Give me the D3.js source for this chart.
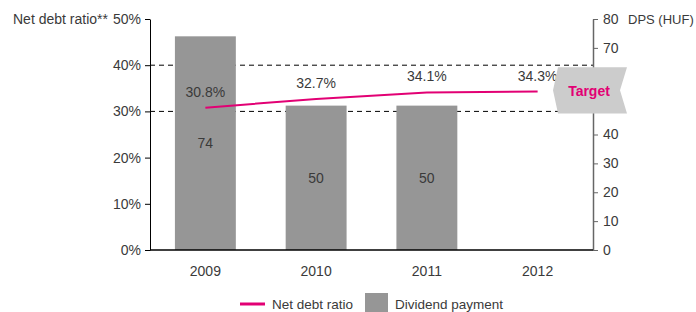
<!DOCTYPE html>
<html>
<head>
<meta charset="utf-8">
<script src="https://cdn.jsdelivr.net/npm/d3@7"></script>
<style>
  body { margin: 0; background: #fff; }
  text { font-family: "Liberation Sans", Arial, sans-serif; }
</style>
</head>
<body>
<div id="chart"></div>
<script>
// data
const years = ["2009", "2010", "2011", "2012"];
const dividend = [74, 50, 50, null];
const netDebt = [30.8, 32.7, 34.1, 34.3];
const leftTicks = [0, 10, 20, 30, 40, 50];
const rightTicks = [0, 10, 20, 30, 40, 50, 60, 70, 80];

const W = 696, H = 312;
const margin = {top: 19, left: 150, right: 103, bottom: 62};
const pink = "#e20074", barGrey = "#969696", textCol = "#3a3a3a";

const svg = d3.select("#chart").append("svg")
  .attr("width", W).attr("height", H);

const x = d3.scaleBand().domain(years)
  .range([margin.left, W - margin.right]).paddingInner(0.45).paddingOuter(0.225);
const yL = d3.scaleLinear().domain([0, 50]).range([H - margin.bottom, margin.top]);
const yR = d3.scaleLinear().domain([0, 80]).range([H - margin.bottom, margin.top]);
const x0 = margin.left, x1 = W - margin.right;

// dashed target band lines
[40, 30].forEach(v => {
  svg.append("line")
    .attr("x1", x0).attr("x2", x1)
    .attr("y1", yL(v)).attr("y2", yL(v))
    .attr("stroke", "#000").attr("stroke-dasharray", "5,4");
});

// bars
const barData = years.map((y, i) => ({year: y, v: dividend[i]})).filter(d => d.v != null);
svg.append("g").selectAll("rect")
  .data(barData)
  .join("rect")
    .attr("x", d => x(d.year))
    .attr("y", d => yR(d.v))
    .attr("width", x.bandwidth())
    .attr("height", d => yR(0) - yR(d.v))
    .attr("fill", barGrey);

svg.append("g").selectAll("text")
  .data(barData)
  .join("text")
    .attr("x", d => x(d.year) + x.bandwidth() / 2)
    .attr("y", d => (yR(d.v) + yR(0)) / 2)
    .attr("dy", "0.35em")
    .attr("text-anchor", "middle")
    .attr("fill", textCol).style("font-size", "14px")
    .text(d => d.v);

// left axis
const axL = svg.append("g")
  .attr("transform", `translate(${x0},0)`)
  .call(d3.axisLeft(yL).tickValues(leftTicks).tickFormat(d => d + "%").tickSize(5).tickSizeOuter(0));
axL.select(".domain").attr("stroke", "#000");
axL.selectAll("text").attr("fill", textCol).style("font-size", "14px").attr("x", -9);

// right axis
const axR = svg.append("g")
  .attr("transform", `translate(${x1},0)`)
  .call(d3.axisRight(yR).tickValues(rightTicks).tickSize(5).tickSizeOuter(0));
axR.select(".domain").attr("stroke", "#666").attr("stroke-width", 1.5);
axR.selectAll(".tick line").attr("stroke", "#666");
axR.selectAll("text").attr("fill", textCol).style("font-size", "14px").attr("x", 10);

// x baseline and labels
svg.append("line")
  .attr("x1", x0).attr("x2", x1)
  .attr("y1", yL(0)).attr("y2", yL(0))
  .attr("stroke", "#000").attr("stroke-width", 1.5);
svg.append("g").selectAll("text")
  .data(years).join("text")
    .attr("x", d => x(d) + x.bandwidth() / 2)
    .attr("y", yL(0) + 26)
    .attr("text-anchor", "middle")
    .attr("fill", textCol).style("font-size", "14px")
    .text(d => d);

// net debt line
const line = d3.line()
  .x((d, i) => x(years[i]) + x.bandwidth() / 2)
  .y(d => yL(d));
svg.append("path")
  .datum(netDebt)
  .attr("d", line)
  .attr("fill", "none").attr("stroke", pink).attr("stroke-width", 2);

svg.append("g").selectAll("text")
  .data(netDebt).join("text")
    .attr("x", (d, i) => x(years[i]) + x.bandwidth() / 2)
    .attr("y", d => yL(d) - 11)
    .attr("text-anchor", "middle")
    .attr("fill", textCol).style("font-size", "14px")
    .text(d => d.toFixed(1) + "%");

// target badge
const bTop = yL(40) + 2, bBot = yL(30) + 2, bMid = (bTop + bBot) / 2;
const bx0 = x1 - 40, bx1 = x1 + 34;
svg.append("path")
  .attr("d", `M${bx0},${bMid} L${bx0 + 5},${bTop} L${bx1},${bTop} L${bx1 - 7},${bMid} L${bx1},${bBot} L${bx0 + 5},${bBot} Z`)
  .attr("fill", "#cccccc");
svg.append("text")
  .attr("x", (bx0 + bx1) / 2 - 1).attr("y", bMid + 6)
  .attr("text-anchor", "middle")
  .attr("fill", pink).style("font-size", "14px").style("font-weight", "bold")
  .text("Target");

// axis titles
svg.append("text")
  .attr("x", 13).attr("y", margin.top + 5)
  .attr("fill", textCol).style("font-size", "14px")
  .text("Net debt ratio**");
svg.append("text")
  .attr("x", x1 + 35).attr("y", margin.top + 5)
  .attr("fill", textCol).style("font-size", "13px")
  .text("DPS (HUF)");

// legend
const lg = svg.append("g").attr("transform", `translate(240,${H - 8})`);
lg.append("line").attr("x1", 0).attr("x2", 25).attr("y1", 0).attr("y2", 0)
  .attr("stroke", pink).attr("stroke-width", 3);
lg.append("text").attr("x", 32).attr("y", 5)
  .attr("fill", textCol).style("font-size", "13.5px").text("Net debt ratio");
lg.append("rect").attr("x", 125).attr("y", -11).attr("width", 23).attr("height", 20)
  .attr("fill", barGrey);
lg.append("text").attr("x", 155).attr("y", 5)
  .attr("fill", textCol).style("font-size", "13.5px").text("Dividend payment");
</script>
</body>
</html>
